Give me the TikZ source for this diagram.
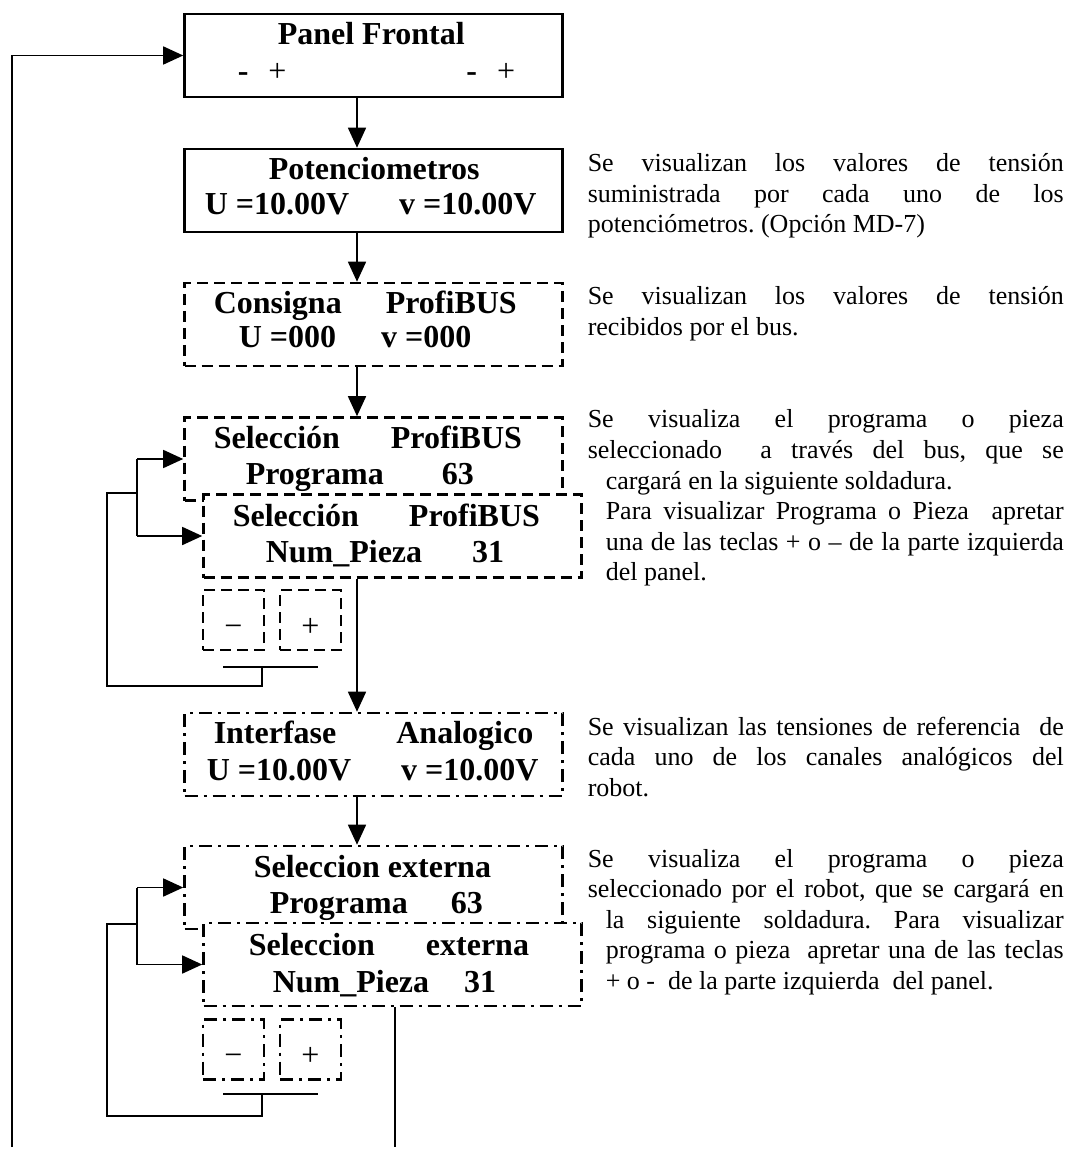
\documentclass[tikz,border=0pt]{standalone}
\usepackage{fontspec}
\setmainfont{Liberation Serif}
\usetikzlibrary{arrows.meta}

\tikzset{every picture/.style={line width=0.75pt}}
\tikzset{
  box/.style={draw, line width=1.3pt, inner sep=0pt, fill=white, minimum width=189pt, minimum height=41.5pt},
  dashbox/.style={box, dash pattern={on 5.5pt off 3pt}},
  dotbox/.style={box, dash pattern={on 6.5pt off 3pt on 1.5pt off 3pt}},
  keybox/.style={minimum width=30.5pt, minimum height=30pt, text height=16pt, text depth=0pt, font=\fontsize{16pt}{18pt}\selectfont},
  lbl/.style={anchor=base west, inner sep=0pt, font=\fontsize{16pt}{18pt}\selectfont\bfseries},
  note/.style={anchor=base west, inner sep=0pt, text width=238pt, align=justify, font=\fontsize{13pt}{15.25pt}\selectfont\frenchspacing},
  notein/.style={note, text width=229pt},
  arr/.style={-{Triangle[length=10pt,width=9pt]}, line width=0.8pt},
  wire/.style={line width=0.8pt},
}

\begin{document}
\begin{tikzpicture}[x=0.5pt,y=0.5pt,yscale=-1,xscale=1]
%set diagram left start at 0, and has height of 1149
\path[use as bounding box] (0,0) rectangle (1069,1149);

%Shape: Rectangle [panel and display boxes]
\node[box] (panel) at (373.5,55.5) {};
\node[box] (pot) at (373.5,190.5) {};
\node[dashbox] (cons) at (373.5,324.5) {};
\node[dashbox] (selprog) at (373.5,459) {};
\node[dashbox] (selpieza) at (392.5,536) {};
\node[dashbox,keybox] (menos1) at (233.5,620) {−};
\node[dashbox,keybox] (mas1) at (310.5,620) {+};
\node[dotbox] (analog) at (373.5,754.5) {};
\node[dotbox] (extprog) at (373.5,887.5) {};
\node[dotbox] (extpieza) at (392.5,964.5) {};
\node[dotbox,keybox] (menos2) at (233.5,1049.5) {−};
\node[dotbox,keybox] (mas2) at (310.5,1049.5) {+};

% Text Node
\node[lbl] (t1) at (277,45) {Panel Frontal};
\node[lbl] (t2) at (237,82) {-\hspace{10pt}{\mdseries +}\hspace{90pt}-\hspace{10pt}{\mdseries +}};
\node[lbl] (t3) at (268,180) {Potenciometros};
\node[lbl] (t4) at (204,215) {U =10.00V\hspace{25pt}v =10.00V};
\node[lbl] (t5) at (213,314) {Consigna\hspace{22pt}ProfiBUS};
\node[lbl] (t6) at (238,348) {U =000\hspace{22.5pt}v =000};
\node[lbl] (t7) at (213,448) {Selección\hspace{25.5pt}ProfiBUS};
\node[lbl] (t8) at (245,484) {Programa\hspace{29pt}63};
\node[lbl] (t9) at (232,526) {Selección\hspace{25pt}ProfiBUS};
\node[lbl] (t10) at (265,562) {Num\_Pieza\hspace{25pt}31};
\node[lbl] (t11) at (213,743) {Interfase\hspace{30pt}Analogico};
\node[lbl] (t12) at (206,780) {U =10.00V\hspace{25pt}v =10.00V};
\node[lbl] (t13) at (253,877) {Seleccion externa};
\node[lbl] (t14) at (269,913) {Programa\hspace{21.5pt}63};
\node[lbl] (t15) at (248,955) {Seleccion\hspace{25.5pt}externa};
\node[lbl] (t16) at (272,992) {Num\_Pieza\hspace{17.5pt}31};

%Straight Lines [main chain]
\coordinate (ax) at (357,0);
\draw[arr] (ax |- panel.south) -- (ax |- pot.north);
\draw[arr] (ax |- pot.south) -- (ax |- cons.north);
\draw[arr] (ax |- cons.south) -- (ax |- selprog.north);
\draw[arr] (ax |- selpieza.south) -- (ax |- analog.north);
\draw[arr] (ax |- analog.south) -- (ax |- extprog.north);
\coordinate (cola) at (395,1147);
\draw[wire] (cola |- extpieza.south) -- (cola);
\coordinate (retorno) at (12,1147);
\draw[arr] (retorno) |- (panel.west);

%Straight Lines [keys ProfiBUS]
\coordinate (barra1) at (223,667);
\coordinate (b1) at (262,667);
\coordinate (j1) at (137,493);
\draw[wire] (barra1) -- ++(95,0);
\draw[wire] (b1) -- ++(0,19) -| (107,493) -- (j1);
\draw[wire] (j1 |- selprog.west) -- (j1 |- selpieza.west);
\draw[arr] (j1 |- selprog.west) -- (selprog.west);
\draw[arr] (j1 |- selpieza.west) -- (selpieza.west);

%Straight Lines [keys externa]
\coordinate (barra2) at (223,1094);
\coordinate (b2) at (262,1094);
\coordinate (j2) at (137,924);
\draw[wire] (barra2) -- ++(95,0);
\draw[wire] (b2) -- ++(0,22) -| (107,924) -- (j2);
\draw[wire] (j2 |- extprog.west) -- (j2 |- extpieza.west);
\draw[arr] (j2 |- extprog.west) -- (extprog.west);
\draw[arr] (j2 |- extpieza.west) -- (extpieza.west);

% Text Node [notes]
\node[note] (n1) at (587,172) {Se visualizan los valores de tensión\linebreak suministrada por cada uno de los\linebreak potenciómetros. (Opción MD-7)};
\node[note] (n2) at (587,305) {Se visualizan los valores de tensión\linebreak recibidos por el bus.};
\node[note] (n3a) at (587,428) {\parfillskip=0pt Se visualiza el programa o pieza\linebreak seleccionado\ \ a través del bus, que se\par};
\node[notein] (n3b) at (605,489) {cargará en la siguiente soldadura.\par
  Para visualizar Programa o Pieza\ \ apretar\linebreak una de las teclas + o – de la parte izquierda\linebreak del panel.};
\node[note] (n4) at (587,735) {Se visualizan las tensiones de referencia\ \ de\linebreak cada uno de los canales analógicos del\linebreak robot.};
\node[note] (n5a) at (587,867) {\parfillskip=0pt Se visualiza el programa o pieza\linebreak seleccionado por el robot, que se cargará en\par};
\node[notein] (n5b) at (605,928) {la siguiente soldadura. Para visualizar\linebreak programa o pieza\ \ apretar una de las teclas\linebreak + o -\ \ de la parte izquierda\ \ del panel.};

\end{tikzpicture}
\end{document}
